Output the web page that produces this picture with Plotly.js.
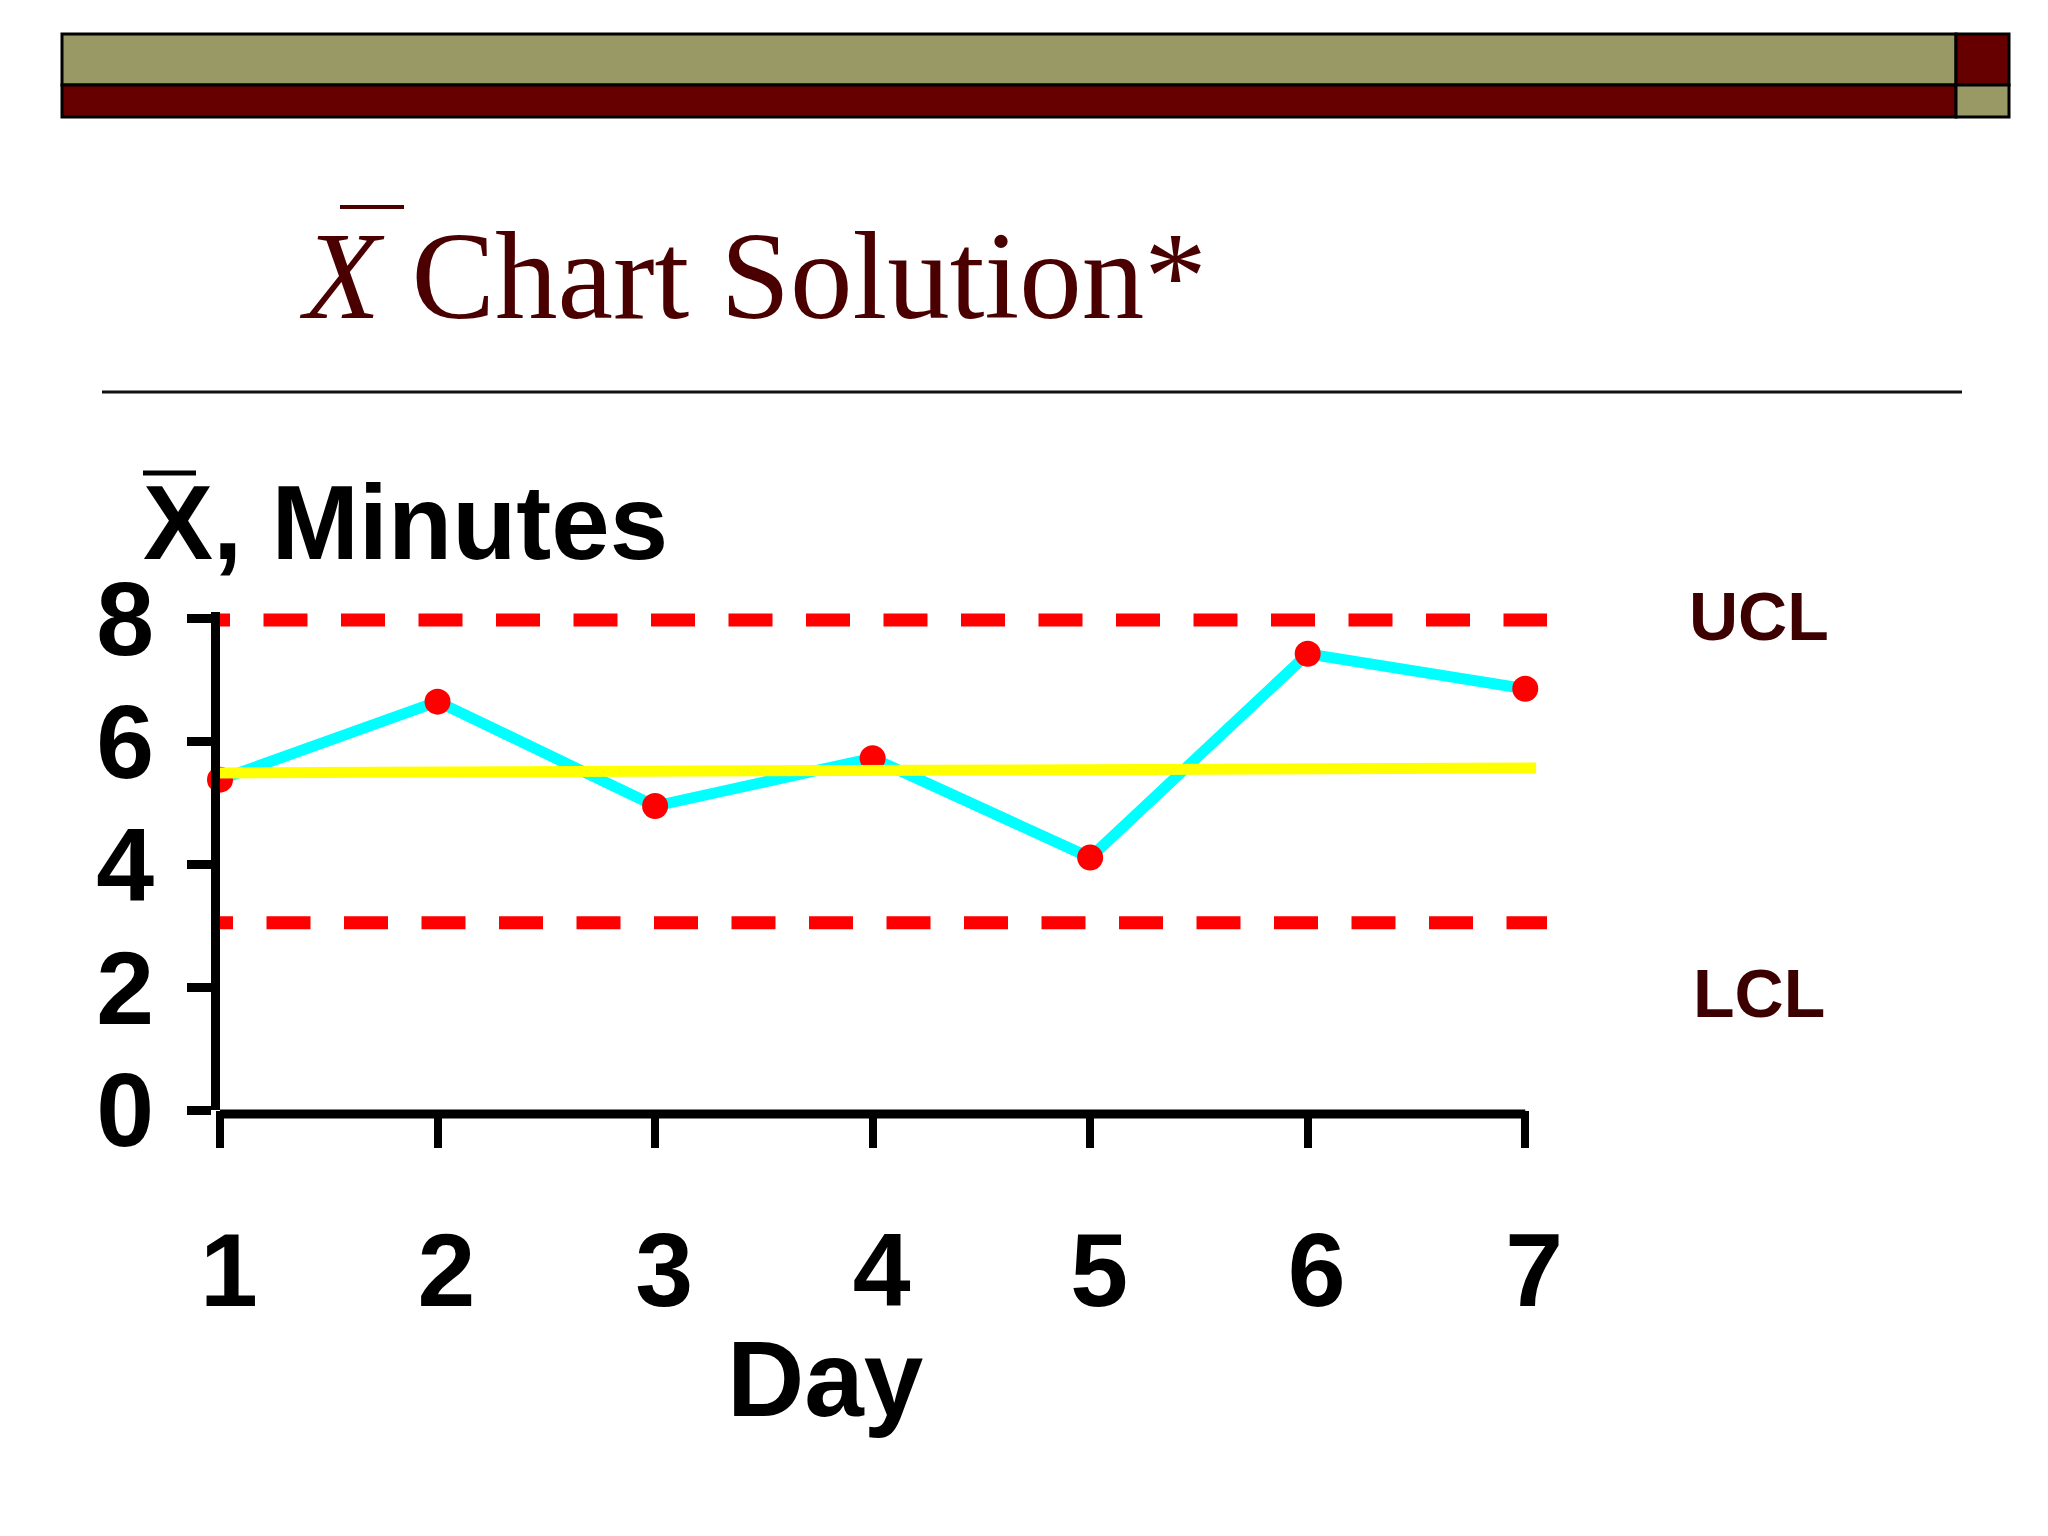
<!DOCTYPE html>
<html>
<head>
<meta charset="utf-8">
<script src="https://cdn.plot.ly/plotly-3.0.1.min.js"></script>
<style>html,body{margin:0;padding:0;background:#fff;}#chart{width:2048px;height:1536px;}</style>
</head>
<body>
<div id="chart"></div>
<script>
// ---- data ----
const days = [1, 2, 3, 4, 5, 6, 7];
const dayLabels = ['1', '2', '3', '4', '5', '6', '7'];
const xbarMinutes = [5.38, 6.65, 4.95, 5.73, 4.11, 7.43, 6.86];
const centerLineX = [1, 7.05];
const centerLineY = [5.49, 5.57];
const limitLineX = [1, 7.1];
const uclValue = 7.98;
const lclValue = 3.05;
const yTickVals = [0, 2, 4, 6, 8];
const yTickText = ['0', '2', '4', '6', '8'];

// ---- geometry helpers (page pixels -> paper) ----
const W = 2048, H = 1536, L = 220, R = 501, T = 612, B = 426;
const PW = W - L - R, PH = H - T - B;
const px = x => (x - L) / PW;
const py = y => (H - B - y) / PH;

const boldFont = 'Arial, "Liberation Sans", sans-serif';
const serifFont = '"Times New Roman", "Liberation Serif", serif';
const maroon = '#4a0000';

const traces = [
  {
    x: days, y: xbarMinutes, type: 'scatter', mode: 'lines+markers',
    line: {color: '#00ffff', width: 11},
    marker: {color: '#ff0000', size: 26},
    cliponaxis: false, hoverinfo: 'skip'
  },
  {
    x: centerLineX, y: centerLineY, type: 'scatter', mode: 'lines',
    line: {color: '#ffff00', width: 11}, hoverinfo: 'skip'
  },
  {
    x: limitLineX, y: limitLineX.map(() => uclValue), type: 'scatter', mode: 'lines',
    line: {color: '#ff0000', width: 13, dash: '10px,33.5px,34px,0px'}, hoverinfo: 'skip'
  },
  {
    x: limitLineX, y: limitLineX.map(() => lclValue), type: 'scatter', mode: 'lines',
    line: {color: '#ff0000', width: 13, dash: '13px,33.5px,31px,0px'}, hoverinfo: 'skip'
  }
];

function rect(x0, y0, x1, y1, fill) {
  return {type: 'rect', xref: 'paper', yref: 'paper', x0: px(x0), x1: px(x1), y0: py(y0), y1: py(y1),
    fillcolor: fill, line: {color: '#000', width: 3}, layer: 'above'};
}
function hline(x0, x1, y, w, c) {
  return {type: 'line', xref: 'paper', yref: 'paper', x0: px(x0), x1: px(x1), y0: py(y), y1: py(y),
    line: {color: c, width: w}, layer: 'above'};
}

const layout = {
  width: W, height: H,
  margin: {l: L, r: R, t: T, b: B, pad: 0},
  paper_bgcolor: '#ffffff', plot_bgcolor: '#ffffff',
  showlegend: false, hovermode: false,
  xaxis: {
    range: [days[0], limitLineX[1]], tickvals: days, ticktext: dayLabels,
    showline: false,
    ticks: 'outside', ticklen: 37, tickwidth: 8, tickcolor: '#000',
    showgrid: false, zeroline: false, ticklabelstandoff: 33, ticklabelshift: 9,
    tickfont: {family: boldFont, size: 104, color: '#000', weight: 'bold'}
  },
  yaxis: {
    range: [0, 8.11], tickvals: yTickVals, ticktext: yTickText,
    showline: true, linewidth: 9, linecolor: '#000',
    ticks: 'outside', ticklen: 24, tickwidth: 9, tickcolor: '#000',
    showgrid: false, zeroline: false, ticklabelstandoff: 12,
    tickfont: {family: boldFont, size: 104, color: '#000', weight: 'bold'}
  },
  shapes: [
    rect(62, 34, 1956, 85, '#999966'),
    rect(62, 85, 1956, 117, '#660000'),
    rect(1956, 34, 2009, 85, '#660000'),
    rect(1956, 85, 2009, 117, '#999966'),
    hline(102, 1962, 392, 3, '#111'),
    hline(340, 404, 207, 4, maroon),
    hline(143, 196, 473, 5, '#000'),
    // x axis baseline, spanning the first to the last day on the x scale
    {type: 'line', xref: 'x', yref: 'paper', x0: days[0], x1: days[days.length - 1],
     y0: py(1114), y1: py(1114), line: {color: '#000', width: 9}, layer: 'above'}
  ],
  annotations: [
    {xref: 'paper', yref: 'paper', x: px(297), y: py(276), xanchor: 'left', yanchor: 'middle',
     text: '<i>X</i> Chart Solution*', showarrow: false,
     font: {family: serifFont, size: 125, color: maroon}},
    {xref: 'paper', yref: 'paper', x: px(141), y: py(522), xanchor: 'left', yanchor: 'middle',
     text: 'X, Minutes', showarrow: false,
     font: {family: boldFont, size: 105, color: '#000', weight: 'bold'}},
    {xref: 'paper', yref: 'paper', x: px(825), y: py(1379), xanchor: 'center', yanchor: 'middle',
     text: 'Day', showarrow: false,
     font: {family: boldFont, size: 107, color: '#000', weight: 'bold'}},
    {xref: 'paper', yref: 'paper', x: px(1687), y: py(616), xanchor: 'left', yanchor: 'middle',
     text: 'UCL', showarrow: false,
     font: {family: boldFont, size: 68, color: '#3d0000', weight: 'bold'}},
    {xref: 'paper', yref: 'paper', x: px(1691), y: py(993), xanchor: 'left', yanchor: 'middle',
     text: 'LCL', showarrow: false,
     font: {family: boldFont, size: 68, color: '#3d0000', weight: 'bold'}}
  ]
};

Plotly.newPlot('chart', traces, layout, {displayModeBar: false, staticPlot: true});
</script>
</body>
</html>
